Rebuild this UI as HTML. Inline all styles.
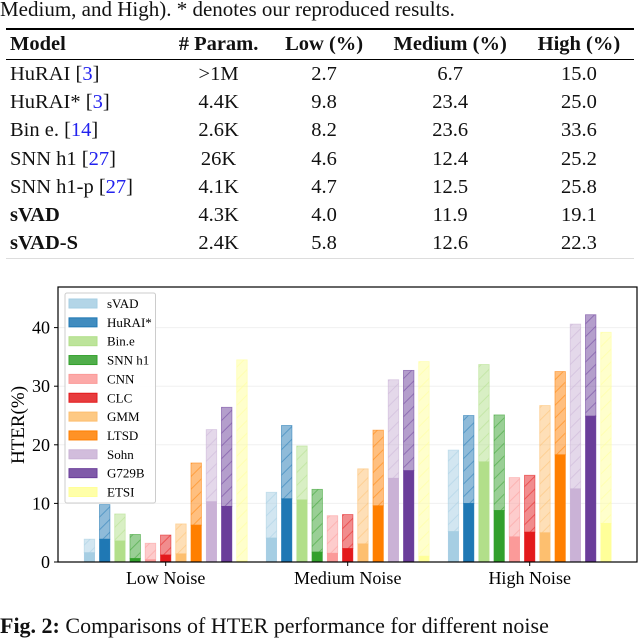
<!DOCTYPE html>
<html><head><meta charset="utf-8">
<style>
body{margin:0;background:#fff;width:640px;height:621px;overflow:hidden;position:relative;font-family:"Liberation Serif",serif;color:#111}
.cap{position:absolute;left:0;top:-3px;font-size:21px;white-space:nowrap}
table{position:absolute;left:6px;top:28px;width:628px;border-collapse:collapse;font-size:20.5px}
th,td{padding:0 4px;height:28.3px;text-align:center;white-space:nowrap}
th{border-top:2px solid #000;border-bottom:1.5px solid #000;height:29px}
th:first-child,td:first-child{text-align:left}
tr:last-child td{border-bottom:1px solid #ddd}
a{color:#2222ee;text-decoration:none}
svg{position:absolute;left:0;top:0}
.fig{position:absolute;left:0;top:613px;font-size:22px;white-space:nowrap}
</style></head><body>
<div class="cap">Medium, and High). * denotes our reproduced results.</div>
<table>
<tr><th>Model</th><th># Param.</th><th>Low (%)</th><th>Medium (%)</th><th>High (%)</th></tr>
<tr><td>HuRAI [<a>3</a>]</td><td>&gt;1M</td><td>2.7</td><td>6.7</td><td>15.0</td></tr>
<tr><td>HuRAI* [<a>3</a>]</td><td>4.4K</td><td>9.8</td><td>23.4</td><td>25.0</td></tr>
<tr><td>Bin e. [<a>14</a>]</td><td>2.6K</td><td>8.2</td><td>23.6</td><td>33.6</td></tr>
<tr><td>SNN h1 [<a>27</a>]</td><td>26K</td><td>4.6</td><td>12.4</td><td>25.2</td></tr>
<tr><td>SNN h1-p [<a>27</a>]</td><td>4.1K</td><td>4.7</td><td>12.5</td><td>25.8</td></tr>
<tr><td><b>sVAD</b></td><td>4.3K</td><td>4.0</td><td>11.9</td><td>19.1</td></tr>
<tr><td><b>sVAD-S</b></td><td>2.4K</td><td>5.8</td><td>12.6</td><td>22.3</td></tr>
</table>
<svg id="chart" width="640" height="621"></svg>
<div class="fig"><b>Fig. 2:</b> Comparisons of HTER performance for different noise</div>
<script>
const models=["sVAD","HuRAI*","Bin.e","SNN h1","CNN","CLC","GMM","LTSD","Sohn","G729B","ETSI"];
const colors=["#a6cee3","#1f78b4","#b2df8a","#33a02c","#fb9a99","#e31a1c","#fdbf6f","#ff7f00","#cab2d6","#6a3d9a","#ffff99"];
const groups=["Low Noise","Medium Noise","High Noise"];
const totalLow=[3.9,9.8,8.2,4.7,3.2,4.6,6.5,16.9,22.6,26.4,34.5];
const totalMed=[11.9,23.3,19.8,12.4,7.9,8.1,15.9,22.5,31.1,32.7,34.2];
const totalHigh=[19.1,25.0,33.7,25.1,14.4,14.8,26.7,32.5,40.6,42.2,39.2];
const baseLow=[1.6,3.9,3.6,0.6,0.4,1.2,1.4,6.3,10.3,9.5,0.2];
const baseMed=[4.1,10.8,10.6,1.7,1.5,2.3,3.1,9.6,14.3,15.6,1.0];
const baseHigh=[5.2,10.0,17.1,8.8,4.3,5.1,5.0,18.3,12.5,24.9,6.6];
const yTicks=[0,10,20,30,40];
const totals=[totalLow,totalMed,totalHigh], bases=[baseLow,baseMed,baseHigh];
const NS="http://www.w3.org/2000/svg";
const svg=document.getElementById('chart');
const X0=58,X1=637,Y0=562,Yt=287,PX=5.86;
const y=v=>Y0-v*PX;
const groupC=[165.7,347.7,529.7], step=15.25, bw=10.5;
const x=(g,i)=>groupC[g]+(i-5)*step-bw/2;
function el(t,a,p){const e=document.createElementNS(NS,t);for(const k in a)e.setAttribute(k,a[k]);(p||svg).appendChild(e);return e;}
const defs=el('defs',{});
colors.forEach((c,i)=>{const p=el('pattern',{id:'h'+i,width:9,height:9,patternUnits:'userSpaceOnUse',patternTransform:'rotate(45)'},defs);
el('rect',{width:9,height:9,fill:c,'fill-opacity':0.5},p);el('line',{x1:4,y1:0,x2:4,y2:9,stroke:c,'stroke-opacity':0.7,'stroke-width':0.7},p);});
yTicks.forEach(t=>{const g=el('line',{x1:X0,x2:X1,y1:y(t),y2:y(t),stroke:'#f0f0f0','stroke-width':1});


const tl=el('text',{x:X0-8,y:y(t)+6,'text-anchor':'end','font-size':18,'font-family':'Liberation Serif'});tl.textContent=t;


el('line',{x1:X0-4,x2:X0,y1:y(t),y2:y(t),stroke:'#000'});});
groups.forEach((gn,g)=>{models.forEach((m,i)=>{const tv=totals[g][i],bv=bases[g][i];
const r1=el('rect',{x:x(g,i),y:y(tv),width:bw,height:y(bv)-y(tv),fill:'url(#h'+i+')',stroke:colors[i],'stroke-opacity':0.6,'stroke-width':0.8});


const r2=el('rect',{x:x(g,i),y:y(bv),width:bw,height:Y0-y(bv),fill:colors[i],stroke:colors[i],'stroke-width':0.5});

});
el('line',{x1:groupC[g],x2:groupC[g],y1:Y0,y2:Y0+4,stroke:'#000'});
const lt=el('text',{x:groupC[g],y:Y0+22,'text-anchor':'middle','font-size':18,'font-family':'Liberation Serif'});lt.textContent=gn;

});
const fr=el('rect',{x:X0,y:Yt,width:X1-X0,height:Y0-Yt,fill:'none',stroke:'#000','stroke-width':1.2});


const yt=el('text',{x:0,y:0,transform:'translate(24,425) rotate(-90)','text-anchor':'middle','font-size':19,'font-family':'Liberation Serif'});yt.textContent='HTER(%)';


const lg=el('rect',{x:65,y:293,width:90.5,height:210,fill:'#fff','fill-opacity':0.9,stroke:'#ccc',rx:2});


models.forEach((m,i)=>{const yy=303.5+i*18.85;
el('rect',{x:69,y:yy-4.5,width:28,height:9,fill:colors[i],'fill-opacity':0.85,stroke:colors[i]});
const t=el('text',{x:107,y:yy+4.5,'font-size':13,'font-family':'Liberation Serif'});t.textContent=m;

});
</script>
</body></html>
